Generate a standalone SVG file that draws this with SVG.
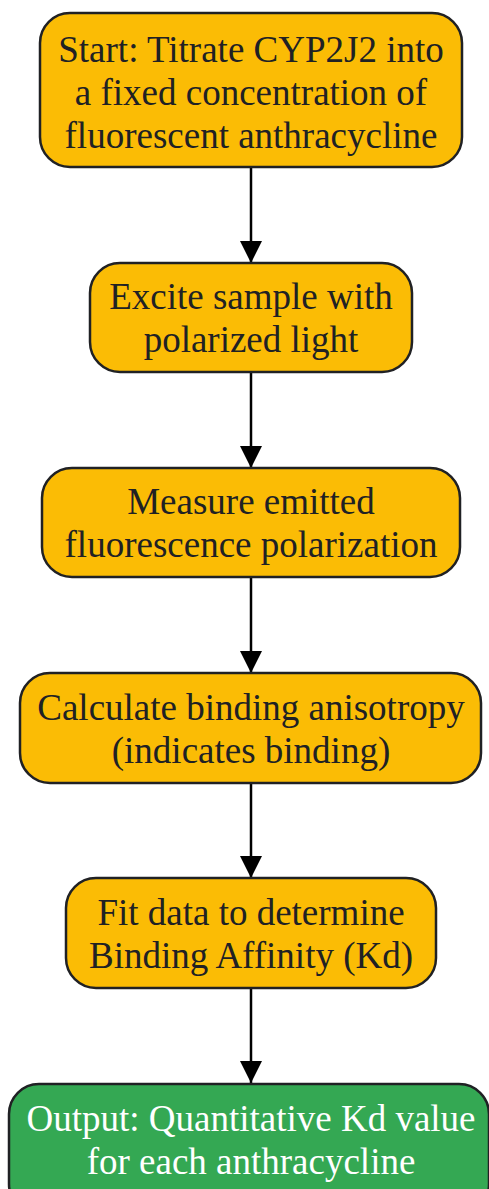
<svg xmlns="http://www.w3.org/2000/svg" width="489" height="1189" viewBox="0 0 489 1189">
<defs>
<style>
.n rect{fill:#FBBC05;stroke:#202124;stroke-width:2.5}
.n text{font-family:"Liberation Serif","Times New Roman",serif;font-size:37px;fill:#202124;text-anchor:middle}
.g rect{fill:#34A853}
.g text{fill:#FFFFFF}
.e line{stroke:#000;stroke-width:2.5}
</style>
<marker id="ah" markerUnits="userSpaceOnUse" markerWidth="24" markerHeight="34" refX="22" refY="11" orient="auto" viewBox="0 0 24 22">
<path d="M0,0 L22,11 L0,22 Z" fill="#000"/>
</marker>
</defs>
<rect width="489" height="1189" fill="#fff"/>
<g id="edges" class="e">
<line x1="251" y1="167" x2="251" y2="263" marker-end="url(#ah)"/>
<line x1="251" y1="372" x2="251" y2="468" marker-end="url(#ah)"/>
<line x1="251" y1="577" x2="251" y2="673" marker-end="url(#ah)"/>
<line x1="251" y1="783" x2="251" y2="878" marker-end="url(#ah)"/>
<line x1="251" y1="988" x2="251" y2="1083" marker-end="url(#ah)"/>
</g>
<g id="n1" class="n">
<rect x="40" y="13" width="422" height="154" rx="30"/>
<text x="251" y="62">Start: Titrate CYP2J2 into</text>
<text x="251" y="105">a fixed concentration of</text>
<text x="251" y="148">fluorescent anthracycline</text>
</g>
<g id="n2" class="n">
<rect x="90" y="263" width="322" height="109" rx="30"/>
<text x="251" y="309">Excite sample with</text>
<text x="251" y="352">polarized light</text>
</g>
<g id="n3" class="n">
<rect x="42" y="468" width="418" height="109" rx="30"/>
<text x="251" y="514">Measure emitted</text>
<text x="251" y="557">fluorescence polarization</text>
</g>
<g id="n4" class="n">
<rect x="20" y="673" width="461" height="110" rx="30"/>
<text x="251" y="720">Calculate binding anisotropy</text>
<text x="251" y="763">(indicates binding)</text>
</g>
<g id="n5" class="n">
<rect x="66" y="878" width="370" height="110" rx="30"/>
<text x="251" y="925">Fit data to determine</text>
<text x="251" y="968">Binding Affinity (Kd)</text>
</g>
<g id="n6" class="n g">
<rect x="9" y="1084" width="480" height="130" rx="30"/>
<text x="251" y="1131">Output: Quantitative Kd value</text>
<text x="251" y="1174">for each anthracycline</text>
</g>
</svg>
